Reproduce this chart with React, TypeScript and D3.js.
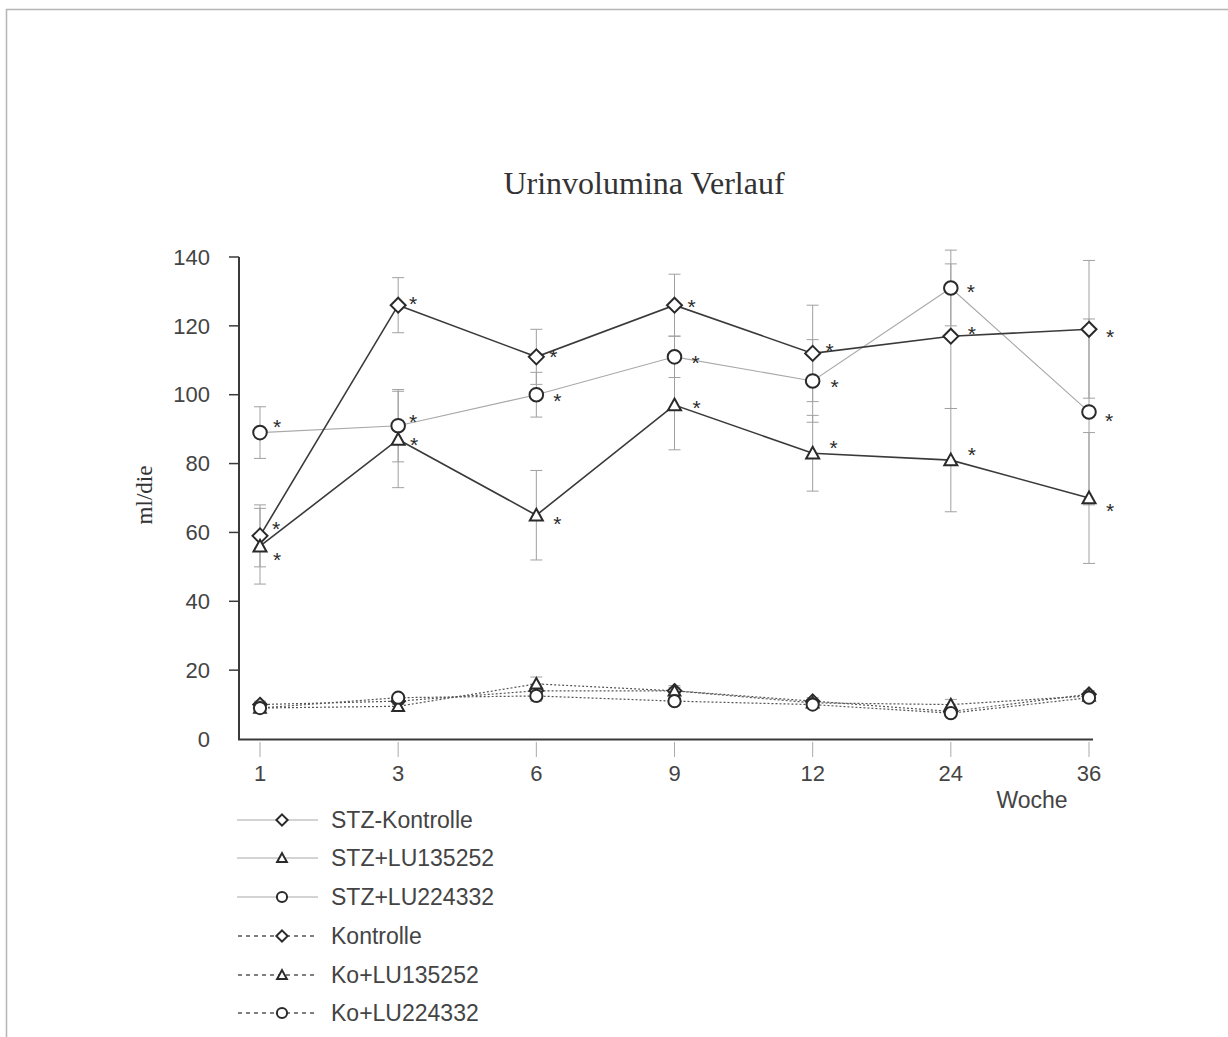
import React from "react";
import * as d3 from "d3";

const weeks = ["1", "3", "6", "9", "12", "24", "36"];
const yTicks = [0, 20, 40, 60, 80, 100, 120, 140];

const stzKontrolle = [59, 126, 111, 126, 112, 117, 119];
const stzKontrolleErr = [9, 8, 8, 9, 14, 21, 20];
const stzLU135252 = [56, 87, 65, 97, 83, 81, 70];
const stzLU135252Err = [11, 14, 13, 13, 11, 15, 19];
const stzLU224332 = [89, 91, 100, 111, 104, 131, 95];
const stzLU224332Err = [7.5, 10.5, 6.5, 6, 12, 11, 27];
const kontrolle = [10, 11, 14, 14, 11, 8, 13];
const kontrolleErr = [1, 1, 2, 1, 1, 1, 1];
const koLU135252 = [9, 9.5, 16, 14, 10.5, 10, 12.5];
const koLU135252Err = [1, 1, 2, 1.5, 1, 1.5, 1];
const koLU224332 = [9, 12, 12.5, 11, 10, 7.5, 12];
const koLU224332Err = [1, 1, 1.5, 1, 1, 1, 1];

const seriesNames = ["STZ-Kontrolle", "STZ+LU135252", "STZ+LU224332", "Kontrolle", "Ko+LU135252", "Ko+LU224332"];

type Shape = "diamond" | "triangle" | "circle";

const series = [
  { name: seriesNames[0], values: stzKontrolle, err: stzKontrolleErr, shape: "diamond" as Shape, stroke: "#3a3a3a", width: 1.6, dash: null as string | null },
  { name: seriesNames[1], values: stzLU135252, err: stzLU135252Err, shape: "triangle" as Shape, stroke: "#3a3a3a", width: 1.6, dash: null },
  { name: seriesNames[2], values: stzLU224332, err: stzLU224332Err, shape: "circle" as Shape, stroke: "#a8a8a8", width: 1.1, dash: null },
  { name: seriesNames[3], values: kontrolle, err: kontrolleErr, shape: "diamond" as Shape, stroke: "#555", width: 1.2, dash: "2,2" },
  { name: seriesNames[4], values: koLU135252, err: koLU135252Err, shape: "triangle" as Shape, stroke: "#555", width: 1.2, dash: "2,2" },
  { name: seriesNames[5], values: koLU224332, err: koLU224332Err, shape: "circle" as Shape, stroke: "#555", width: 1.2, dash: "2,2" },
];

// star offsets (dx, dy) per STZ series
const starOffsets = [
  [[16, -13], [15, -7], [17, -6], [17, -4], [17, -8], [21, -8], [21, 2]],
  [[17, 8], [16, 0], [21, 3], [22, -3], [21, -11], [21, -11], [21, 7]],
  [[17, -12], [15, -10], [21, 0], [21, 0], [22, 0], [20, -2], [20, 3]],
];

function Marker({ shape, x, y, s = 1 }: { shape: Shape; x: number; y: number; s?: number }) {
  const st = { fill: "#fff", stroke: "#2a2a2a", strokeWidth: 2 };
  if (shape === "diamond") {
    const r = 7.5 * s;
    return <path d={`M${x},${y - r}L${x + r},${y}L${x},${y + r}L${x - r},${y}Z`} {...st} />;
  }
  if (shape === "triangle") {
    const r = 6.5 * s;
    return <path d={`M${x},${y - r}L${x + r},${y + r * 0.8}L${x - r},${y + r * 0.8}Z`} {...st} />;
  }
  return <circle cx={x} cy={y} r={6.8 * s} {...st} />;
}

export default function App() {
  const x = d3.scalePoint<string>().domain(weeks).range([260, 1089]);
  const y = d3.scaleLinear().domain([0, 140]).range([739, 257]);
  const sans = "'Liberation Sans', Arial, sans-serif";
  const serif = "'Liberation Serif', 'Times New Roman', serif";
  const line = d3.line<number>().x((_, i) => x(weeks[i]) as number).y((d) => y(d));
  const order = [3, 4, 5, 2, 0, 1];
  const legendY = [820, 858, 897, 936, 975, 1013];

  return (
    <svg width={1228} height={1037} style={{ position: "absolute", left: 0, top: 0, background: "#fff" }}>
      <rect x={0} y={0} width={1228} height={1037} fill="#fff" />
      <line x1={6} y1={9.5} x2={1228} y2={9.5} stroke="#b5b5b5" strokeWidth={1.5} />
      <line x1={6.5} y1={9} x2={6.5} y2={1037} stroke="#b5b5b5" strokeWidth={1.5} />

      <text x={644} y={194} textAnchor="middle" fontFamily={serif} fontSize={32} fill="#333">Urinvolumina Verlauf</text>
      <text transform="translate(152,495) rotate(-90)" textAnchor="middle" fontFamily={serif} fontSize={23} fill="#333">ml/die</text>

      {/* axes */}
      <line x1={239} y1={y(140)} x2={239} y2={740} stroke="#3a3a3a" strokeWidth={2} />
      <line x1={238} y1={739.5} x2={1093} y2={739.5} stroke="#3a3a3a" strokeWidth={2} />
      {yTicks.map((t) => (
        <g key={t}>
          {t > 0 && <line x1={229} x2={239} y1={y(t)} y2={y(t)} stroke="#3a3a3a" strokeWidth={1.5} />}
          <text x={210} y={y(t)} dy="0.35em" textAnchor="end" fontFamily={sans} fontSize={22} fill="#444">{t}</text>
        </g>
      ))}
      {weeks.map((w) => (
        <g key={w}>
          <line x1={x(w)} x2={x(w)} y1={742} y2={757} stroke="#aaa" strokeWidth={1} />
          <text x={x(w)} y={773} dy="0.35em" textAnchor="middle" fontFamily={sans} fontSize={22} fill="#444">{w}</text>
        </g>
      ))}
      <text x={1032} y={800} dy="0.35em" textAnchor="middle" fontFamily={sans} fontSize={23} fill="#444">Woche</text>

      {/* error bars */}
      {series.map((s, si) =>
        s.values.map((v, i) => {
          const cx = x(weeks[i]) as number;
          const e = s.err[i];
          return (
            <g key={`e${si}-${i}`} stroke="#a0a0a0" strokeWidth={1}>
              <line x1={cx} x2={cx} y1={y(v + e)} y2={y(v - e)} />
              <line x1={cx - 6} x2={cx + 6} y1={y(v + e)} y2={y(v + e)} />
              <line x1={cx - 6} x2={cx + 6} y1={y(v - e)} y2={y(v - e)} />
            </g>
          );
        })
      )}

      {/* lines */}
      {order.map((si) => {
        const s = series[si];
        return (
          <path key={`l${si}`} d={line(s.values) || ""} fill="none" stroke={s.stroke} strokeWidth={s.width}
            strokeDasharray={s.dash || undefined} />
        );
      })}

      {/* markers */}
      {order.map((si) => {
        const s = series[si];
        return s.values.map((v, i) => (
          <Marker key={`m${si}-${i}`} shape={s.shape} x={x(weeks[i]) as number} y={y(v)} s={si >= 3 ? 0.9 : 1} />
        ));
      })}

      {/* significance stars */}
      {series.slice(0, 3).map((s, si) =>
        s.values.map((v, i) => (
          <text key={`s${si}-${i}`} x={(x(weeks[i]) as number) + starOffsets[si][i][0]} y={y(v) + starOffsets[si][i][1]}
            dy="0.62em" textAnchor="middle" fontFamily={sans} fontSize={21} fill="#2a2a2a">*</text>
        ))
      )}

      {/* legend */}
      {series.map((s, i) => {
        const ly = legendY[i];
        return (
          <g key={`lg${i}`}>
            {s.dash ? (
              <line x1={238} x2={318} y1={ly} y2={ly} stroke="#555" strokeWidth={1.5} strokeDasharray="4,4" />
            ) : (
              <line x1={237} x2={318} y1={ly} y2={ly} stroke="#a8a8a8" strokeWidth={1} />
            )}
            <Marker shape={s.shape} x={282} y={ly} s={0.75} />
            <text x={331} y={ly} dy="0.35em" fontFamily={sans} fontSize={23} fill="#444">{s.name}</text>
          </g>
        );
      })}
    </svg>
  );
}
